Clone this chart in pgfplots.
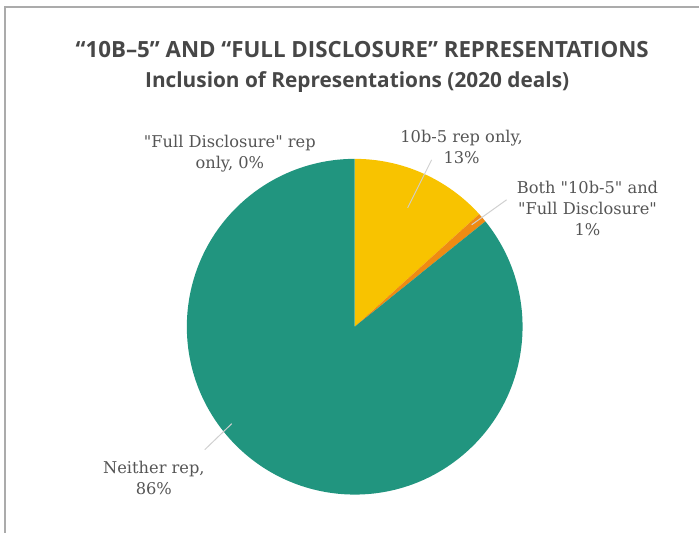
\documentclass[border=0pt]{standalone}
\usepackage{fontspec}
\setmainfont{DejaVu Serif}[Ligatures=TeXOff]
\newfontfamily\titlefont{Open Sans}
\usepackage{pgfplots}
\usepackage{pgfplotstable}
\pgfplotsset{compat=1.18}
\definecolor{pieteal}{HTML}{21957F}
\definecolor{pieyellow}{HTML}{F8C300}
\definecolor{pieorange}{HTML}{EF8B12}
\definecolor{titlegray}{HTML}{474747}
\definecolor{labelgray}{HTML}{555555}
\definecolor{leadergray}{HTML}{CFCFCF}
\definecolor{bordergray}{HTML}{ABABAB}

\pgfplotstableread[col sep=comma]{
label,value
Full Disclosure only,0
10b-5 only,13.3
Both,0.9
Neither,85.8
}\piedata

\pgfplotstablegetelem{0}{value}\of\piedata \let\vA\pgfplotsretval
\pgfplotstablegetelem{1}{value}\of\piedata \let\vB\pgfplotsretval
\pgfplotstablegetelem{2}{value}\of\piedata \let\vC\pgfplotsretval
\pgfplotstablegetelem{3}{value}\of\piedata \let\vD\pgfplotsretval
\pgfmathsetmacro\aA{90}
\pgfmathsetmacro\aB{\aA-3.6*\vA}
\pgfmathsetmacro\aC{\aB-3.6*\vB}
\pgfmathsetmacro\aD{\aC-3.6*\vC}
\pgfmathsetmacro\aE{\aD-3.6*\vD}

\begin{document}
\begin{tikzpicture}
\begin{axis}[x=1bp, y=1bp, xmin=0, xmax=700, ymin=0, ymax=533,
  hide axis, scale only axis, clip=false]
% page extent
\path (axis cs:0,0) rectangle (axis cs:700,533);
% frame lines
\draw[bordergray, line width=1.2bp] (axis cs:5,0) -- (axis cs:5,526) -- (axis cs:700,526);
% pie slices
\fill[pieyellow] (axis cs:355,206) -- ++(\aB:168bp) arc[start angle=\aB, end angle=\aC, radius=168bp] -- cycle;
\fill[pieorange] (axis cs:355,206) -- ++(\aC:168bp) arc[start angle=\aC, end angle=\aD, radius=168bp] -- cycle;
\fill[pieteal] (axis cs:355,206) -- ++(\aD:168bp) arc[start angle=\aD, end angle=\aE, radius=168bp] -- cycle;
% leader lines
\draw[leadergray, line width=1bp] (axis cs:408,325) -- (axis cs:432,373);
\draw[leadergray, line width=1bp] (axis cs:472,308) -- (axis cs:507,333);
\draw[leadergray, line width=1bp] (axis cs:205,83) -- (axis cs:232,109);
% titles
\node[titlegray, anchor=base, inner sep=0pt, font=\titlefont\bfseries\fontsize{22.4}{26}\selectfont] at (axis cs:362.5,475.7) {“10B–5” AND “FULL DISCLOSURE” REPRESENTATIONS};
\node[titlegray, anchor=base, inner sep=0pt, font=\titlefont\bfseries\fontsize{20.9}{24}\selectfont] at (axis cs:357.5,445.7) {Inclusion of Representations (2020 deals)};
% labels
\node[labelgray, align=center, font=\fontsize{16.3}{21}\selectfont] at (axis cs:230,379) {"Full Disclosure" rep\\only, 0\%};
\node[labelgray, align=center, font=\fontsize{16.3}{21}\selectfont] at (axis cs:462,385.5) {10b-5 rep only,\\13\%};
\node[labelgray, align=center, font=\fontsize{16.3}{21}\selectfont] at (axis cs:588,324.5) {Both "10b-5" and\\"Full Disclosure"\\1\%};
\node[labelgray, align=center, font=\fontsize{16.3}{21}\selectfont] at (axis cs:154,55) {Neither rep,\\86\%};
\end{axis}
\end{tikzpicture}
\end{document}
